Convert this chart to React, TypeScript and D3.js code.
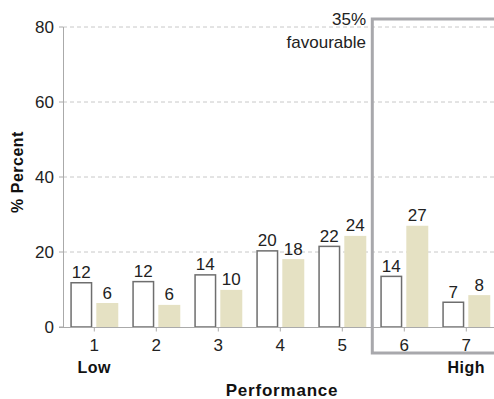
import React from "react";
import * as d3 from "d3";

const categories = ["1", "2", "3", "4", "5", "6", "7"];
const seriesA = [11.8, 12.1, 13.9, 20.3, 21.5, 13.5, 6.6];
const seriesB = [6.4, 5.9, 9.9, 18.1, 24.3, 27.0, 8.5];
const labelsA = ["12", "12", "14", "20", "22", "14", "7"];
const labelsB = ["6", "6", "10", "18", "24", "27", "8"];
const yTicks = [0, 20, 40, 60, 80];
const endLabels: Record<string, string> = { "1": "Low", "7": "High" };
const boxCategories = ["6", "7"];
const boxLabel = ["35%", "favourable"];

const W = 494;
const H = 399;
const FONT = "'Liberation Sans', Arial, sans-serif";

export default function App() {
  const x = d3.scaleBand<string>().domain(categories).range([63.3, 497.3]).padding(0);
  const inner = d3
    .scaleBand<string>()
    .domain(["a", "b"])
    .range([0, x.bandwidth()])
    .paddingInner(0.154)
    .paddingOuter(0.27);
  const y = d3.scaleLinear().domain([0, 80]).range([327, 27]);
  const bw = inner.bandwidth();
  const boxX = (x(boxCategories[0]) as number) - 1;

  return (
    <svg
      width={W}
      height={H}
      style={{ position: "absolute", left: 0, top: 0, background: "#fff" }}
      fontFamily={FONT}
    >
      {yTicks.slice(1).map((t) => (
        <line
          key={"g" + t}
          x1={63}
          x2={W}
          y1={y(t)}
          y2={y(t)}
          stroke="#c8c8c8"
          strokeWidth={1}
          strokeDasharray="4,3"
        />
      ))}
      <line x1={63.5} x2={63.5} y1={y(80)} y2={y(0)} stroke="#aaa" strokeWidth={1} />
      {yTicks.map((t) => (
        <g key={"yt" + t}>
          <line x1={59} x2={63} y1={y(t)} y2={y(t)} stroke="#aaa" />
          <text x={54} y={y(t)} dy="0.36em" textAnchor="end" fontSize={17} fill="#222">
            {t}
          </text>
        </g>
      ))}
      {categories.map((c, i) => {
        const x0 = x(c) as number;
        const xa = x0 + (inner("a") as number);
        const xb = x0 + (inner("b") as number);
        const cx = x0 + x.bandwidth() / 2;
        return (
          <g key={"bar" + c}>
            <rect
              x={xa + 0.75}
              y={y(seriesA[i])}
              width={bw - 1.5}
              height={y(0) - y(seriesA[i])}
              fill="#fff"
              stroke="#6e6e6e"
              strokeWidth={1.5}
            />
            <rect
              x={xb}
              y={y(seriesB[i])}
              width={bw}
              height={y(0) - y(seriesB[i])}
              fill="#e5e1c3"
            />
            <text x={xa + bw / 2} y={y(seriesA[i]) - 4.5} textAnchor="middle" fontSize={17} fill="#222">
              {labelsA[i]}
            </text>
            <text x={xb + bw / 2} y={y(seriesB[i]) - 4.5} textAnchor="middle" fontSize={17} fill="#222">
              {labelsB[i]}
            </text>
            <line x1={cx} x2={cx} y1={327} y2={331.5} stroke="#aaa" />
            <text x={cx} y={351} textAnchor="middle" fontSize={17} fill="#222">
              {c}
            </text>
            {endLabels[c] && (
              <text x={cx} y={373} textAnchor="middle" fontSize={16} fontWeight="bold" fill="#111" letterSpacing={0.5}>
                {endLabels[c]}
              </text>
            )}
          </g>
        );
      })}
      <line x1={59} x2={W} y1={327.5} y2={327.5} stroke="#aaa" strokeWidth={1} />
      <rect
        x={boxX}
        y={19}
        width={200}
        height={334}
        fill="none"
        stroke="#a8a8ac"
        strokeWidth={3}
      />
      <text x={366} y={25} textAnchor="end" fontSize={17} fill="#222">
        {boxLabel[0]}
      </text>
      <text x={366} y={48} textAnchor="end" fontSize={17} fill="#222">
        {boxLabel[1]}
      </text>
      <text
        transform={`translate(23,172) rotate(-90)`}
        textAnchor="middle"
        fontSize={16}
        fontWeight="bold"
        fill="#111"
        letterSpacing={0.5}
      >
        % Percent
      </text>
      <text x={282} y={396} textAnchor="middle" fontSize={17} fontWeight="bold" fill="#111" letterSpacing={0.8}>
        Performance
      </text>
    </svg>
  );
}
